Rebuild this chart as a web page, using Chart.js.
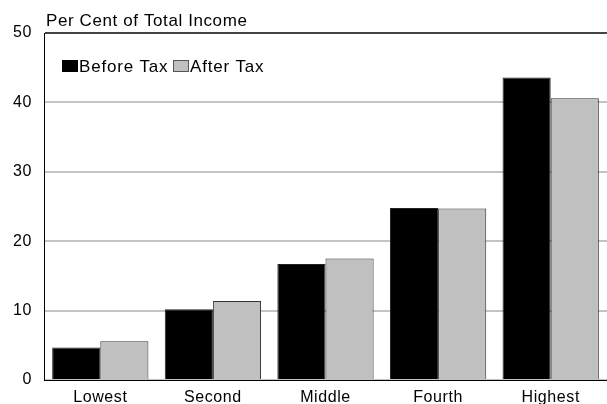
<!DOCTYPE html>
<html><head><meta charset="utf-8">
<script src="https://cdn.jsdelivr.net/npm/chart.js@4/dist/chart.umd.min.js"></script>
<style>html,body{margin:0;padding:0;background:#fff}#wrap{width:607px;height:404px}</style>
</head><body><div id="wrap"><canvas id="c"></canvas></div>
<script>
const categories = ["Lowest", "Second", "Middle", "Fourth", "Highest"];
const beforeTax = [4.7, 10.2, 16.7, 24.8, 43.6];
const afterTax = [5.6, 11.4, 17.5, 24.7, 40.6];
const yTicks = [0, 10, 20, 30, 40, 50];
const yTitle = "Per Cent of Total Income";
const seriesNames = ["Before Tax", "After Tax"];
const FONT = "'Liberation Sans', Arial, sans-serif";

const canvas = document.getElementById('c');

const spacing = {
  id: 'spacing',
  beforeDraw(chart) { chart.ctx.letterSpacing = '0.6px'; }
};

const overlay = {
  id: 'overlay',
  afterDraw(chart) {
    const ctx = chart.ctx;
    ctx.save();
    ctx.letterSpacing = '0.6px';
    ctx.fillStyle = '#000';
    ctx.font = '17px ' + FONT;
    ctx.textBaseline = 'alphabetic';
    ctx.textAlign = 'left';
    ctx.fillText(yTitle, 46, 26);
    // legend
    ctx.font = '17px ' + FONT;
    ctx.letterSpacing = '0.8px';
    let x = 62, y = 60;
    ctx.fillStyle = '#000';
    ctx.fillRect(x, y, 16, 12);
    ctx.fillText(seriesNames[0], x + 17, y + 12);
    x = 173;
    ctx.fillStyle = '#c0c0c0';
    ctx.fillRect(x, y, 16, 12);
    ctx.strokeStyle = '#555';
    ctx.lineWidth = 1;
    ctx.strokeRect(x + 0.5, y + 0.5, 15, 11);
    ctx.fillStyle = '#000';
    ctx.fillText(seriesNames[1], x + 17, y + 12);
    ctx.restore();
  }
};

new Chart(canvas, {
  type: 'bar',
  data: {
    labels: categories,
    datasets: [
      { label: seriesNames[0], data: beforeTax, backgroundColor: '#000', borderColor: '#222', borderWidth: 1, categoryPercentage: 0.855, barPercentage: 1.0 },
      { label: seriesNames[1], data: afterTax, backgroundColor: '#c0c0c0', borderColor: '#333', borderWidth: 1, categoryPercentage: 0.855, barPercentage: 1.0 }
    ]
  },
  options: {
    responsive: true, maintainAspectRatio: false, animation: false,
    layout: { padding: { top: 33, right: 0, left: 0, bottom: 0 } },
    plugins: { legend: { display: false }, tooltip: { enabled: false }, title: { display: false } },
    scales: {
      x: {
        grid: { display: false, drawTicks: false },
        border: { display: true, color: '#000', width: 1 },
        ticks: { color: '#000', font: { family: FONT, size: 16 }, padding: 8, maxRotation: 0 },
        afterFit(s) { s.height = 24; }
      },
      y: {
        min: 0, max: 50,
        afterBuildTicks(s) { s.ticks = yTicks.map(v => ({ value: v })); },
        grid: {
          color: ctx => ctx.tick && ctx.tick.value === 50 ? '#444' : '#c4c4c4',
          lineWidth: 2, drawTicks: false
        },
        border: { display: true, color: '#000', width: 1 },
        ticks: { color: '#000', font: { family: FONT, size: 16 }, padding: 12 },
        afterFit(s) { s.width = 44; }
      }
    }
  },
  plugins: [spacing, overlay]
});
</script></body></html>
